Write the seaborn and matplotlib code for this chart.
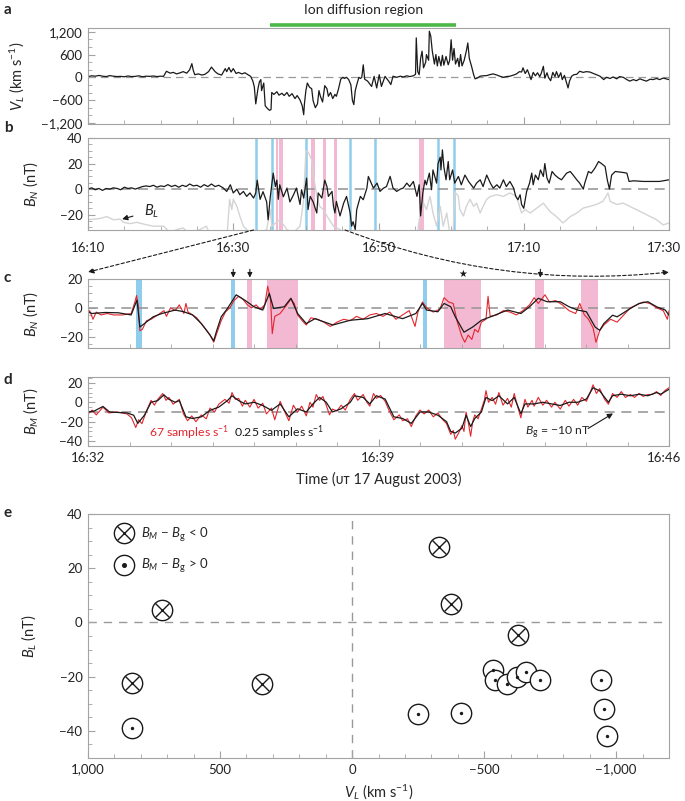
import matplotlib
matplotlib.use("Agg")
import matplotlib.pyplot as plt
import matplotlib.transforms as mtransforms
import seaborn as sns
from matplotlib.lines import Line2D
from matplotlib.legend_handler import HandlerTuple
from matplotlib.patches import ConnectionPatch
from matplotlib.ticker import MultipleLocator

# ---------------- data ----------------
# panel a : V_L, time in minutes after 16:10
a_t = [0, 0.5, 1, 1.5, 2, 2.5, 3, 3.5, 4, 4.5, 5, 5.5, 6, 6.5, 7, 7.5, 8, 8.5, 9, 9.5, 10, 10.4,
       10.8, 11.3, 11.75, 12.2, 12.7, 13.1, 13.6, 14.0, 14.3, 14.5, 14.7, 15.2, 15.7, 16.1, 16.6, 17.0,
       17.5, 17.9, 18.4, 18.9, 19.1, 19.4, 19.7, 20.0, 20.4, 20.7, 21.2, 21.6, 22.1, 22.4, 22.7, 22.9,
       23.1, 23.4, 23.6, 23.8, 23.9, 24.2, 24.4, 24.7, 25.0, 25.2, 25.3, 25.6, 26.0, 26.3, 26.7, 27.0,
       27.4, 27.7, 28.1, 28.5, 28.8, 29.2, 29.5, 29.7, 29.8, 30.0, 30.2, 30.5, 30.8, 31.0, 31.3, 31.6,
       31.8, 32.0, 32.3, 32.6, 32.9, 33.1, 33.4, 33.7, 34.0, 34.2, 34.5, 34.8, 35.1, 35.3, 35.6, 35.9,
       36.2, 36.4, 36.6, 36.8, 37.0, 37.3, 37.5, 37.7, 37.9, 38.1, 38.5, 39.05, 39.4, 39.75, 40.1, 40.4,
       40.9, 41.4, 41.7, 42.0, 42.5, 43.0, 43.4, 43.9, 44.3, 44.8, 45.1, 45.2, 45.4, 45.6, 45.8, 46.0,
       46.2, 46.5, 46.6, 46.9, 47.0, 47.2, 47.4, 47.7, 47.9, 48.1, 48.3, 48.6, 48.8, 49.0, 49.3, 49.6,
       49.8, 50.0, 50.2, 50.4, 50.6, 50.9, 51.1, 51.3, 51.5, 51.8, 52.1, 52.3, 52.5, 52.8, 53.1, 53.3,
       53.6, 54.0, 54.4, 54.9, 55.3, 55.8, 56.3, 56.7, 57.2, 57.6, 58.1, 58.6, 59.0, 59.4, 59.7, 59.9,
       60.2, 60.5, 60.8, 61.0, 61.3, 61.6, 61.9, 62.2, 62.4, 62.7, 62.9, 63.2, 63.4, 63.7, 64.0, 64.3,
       64.5, 64.8, 65.1, 65.3, 65.6, 65.9, 66.1, 66.3, 66.6, 66.9, 67.3, 67.7, 68.2, 68.6, 69.1, 69.6,
       70.0, 70.5, 71.0, 71.4, 71.9, 72.3, 72.8, 73.2, 73.7, 74.2, 74.6, 75.1, 75.5, 76.0, 76.4, 76.9,
       77.4, 77.8, 78.3, 78.7, 79.2, 80.0]
a_v = [20, 40, 30, 50, 30, 20, 45, 30, 20, 25, 15, 35, 20, 25, 40, 15, 30, 25, 35, 20, 30, 25,
       160, 110, 130, 90, 120, 150, 110, 200, 360, 180, 70, 90, 60, 80, 150, 270,
       150, 90, 60, 230, 150, 260, 140, 230, 100, 130, 90, 120, 60, 25, -100, -250,
       -700, -300, -120, -60, -350, -150, -750, -820, -870, -850, -400, -450, -380, -470, -420, -480,
       -400, -500, -430, -560, -480, -600, -750, -985, -700, -350, -150, -260, -300, -620, -800, -700,
       -350, -500, -650, -220, -300, -500, -400, -560, -450, -500, -300, -50, 0, -30, 0, -60,
       -200, -600, -720, -350, -200, 0, -30, 0, 330, -50, -100, -240, 25, -280, 70, -240,
       25, -100, -190, 30, 0, 30, 10, 40, 20, 40, 80, 1040, 150, 70, 500, 690,
       250, 400, 600, 450, 1215, 1080, 700, 350, 600, 300, 550, 300, 580, 320, 550, 330,
       450, 990, 450, 760, 350, 500, 280, 600, 300, 450, 700, 905, 500, 300, 70, -40,
       -20, 30, 40, 45, 70, 90, 60, 30, 0, 20, 30, 60, 90, 150, 140, 250,
       100, 200, 50, -60, 130, 40, 120, 20, 100, 290, -20, 120, 0, -90, 130, 20,
       150, 0, 120, -60, 50, -150, -280, -100, 30, 70, 80, 160, 130, 150, 140, 100,
       70, 30, -60, 0, -30, 10, -40, 20, 0, -60, -100, -60, -90, -40, -70, -100,
       -50, -60, -30, -60, -20, -60]
ion_region = [25.1, 50.7]

# panel b : B_N (black) and B_L (grey), minutes after 16:10
bn_t = [0, 0.5, 1, 1.5, 2, 2.5, 3, 3.5, 4, 4.5, 5, 5.5, 6, 6.5, 7, 7.5, 8, 8.5, 9, 9.5, 10, 10.5,
        11, 11.5, 12, 12.5, 13, 13.5, 14, 14.5, 15, 15.5, 16, 16.5, 17, 17.5, 18, 18.6, 19.1, 19.6,
        20.0, 20.5, 20.9, 21.4, 21.85, 22.3, 22.8, 23.1, 23.3, 23.7, 24.1, 24.6, 24.8, 25.1, 25.5, 25.8,
        26.0, 26.2, 26.4, 26.9, 27.4, 27.8, 28.3, 28.7, 29.2, 29.4, 29.7, 30.1, 30.3, 30.6, 31.0, 31.5,
        31.7, 32.2, 32.6, 32.9, 33.1, 33.6, 33.8, 34.0, 34.2, 34.7, 35.2, 35.6, 36.1, 36.3, 36.5, 36.8,
        37.0, 37.5, 37.9, 38.4, 38.6, 38.8, 39.3, 39.8, 40.2, 40.7, 41.1, 41.6, 42.0, 42.5, 43.0, 43.4,
        43.9, 44.3, 44.8, 45.3, 45.6, 45.8, 46.1, 46.4, 46.6, 47.0, 47.3, 47.5, 48.0, 48.2, 48.5, 48.6,
        48.8, 49.0, 49.3, 49.6, 49.8, 50.2, 50.5, 51.0, 51.4, 51.9, 52.4, 53.1, 53.5, 54.0, 54.4, 54.9,
        55.4, 55.8, 56.3, 56.7, 57.2, 57.6, 58.1, 58.6, 58.9, 59.2, 59.5, 59.7, 60.0, 60.4, 60.8, 61.1,
        61.3, 61.6, 62.0, 62.3, 62.7, 62.9, 63.2, 63.5, 63.9, 64.3, 64.8, 65.2, 65.9, 66.4, 66.8, 67.3,
        67.7, 68.2, 68.4, 68.9, 69.3, 69.8, 70.3, 70.7, 71.2, 71.5, 71.8, 72.1, 72.6, 73.7, 74.2, 74.5,
        75.1, 76.5, 77.8, 78.7, 80.0]
bn_v = [0, 1, -0.5, 0.5, -1, 0.5, 0, 1, 0.5, -0.5, 1.5, 0.5, 1, 0, 1, 2, 2.5, 2, 3, 1.5, 2.5, 2,
        3.5, 2, 3, 1.5, 3, 2, 4, 2.5, 3, 1.5, 3.5, 2, 4, 2, 3, 1, -1.8, 3.4,
        -3, 0, -4.4, -1.8, -5.7, -3, -7, -3, 7, -8, -2, -10, -24, -6, 12.5, 2,
        7, -8, 3.4, -6, 0.8, -10, -4.4, 0.8, -12, -0.5, -7, 8.6, -16, -5.7, -10, -18.7,
        -3, -7, 7, 2, -5.7, -1.8, -13.5, -18.7, -9.6, -21, -11, -5.7, -18.7, -29, -25.5, -31.7,
        -16, -5.7, -8.3, 0.8, 9.9, 7.3, 0.8, 4.7, -1.8, 0.8, 2, 10, 0.8, -1.8, 0, 0.8,
        4.7, 2, 6, -5.7, 3.4, -21, -3, 7, 3.4, 12.5, -0.5, 15, 4.7, 20, 25, 15,
        30.7, 17.5, 7.3, 21.6, 7.3, 15, 4.7, 9.9, 3.4, 11, 6, 0.8, 4.7, 7.3, 2, 11,
        4.7, 0.8, 3.4, 0.8, 7.3, 2, 6, 0.8, -5.7, -8.3, -4.4, -12, -15, -1.8, 4.7, 12.5,
        3.4, 11, 7.3, 15, 9.9, 20, 8.6, 4.7, 13.8, 11, 8.6, 7.3, 12.5, 13.8, 11, 7.3,
        4.7, 0, 4.7, 13.8, 12.5, 16.4, 21.6, 20, 17.7, 7.3, 0, 11, 13.8, 13, 12.5, 6,
        6.5, 6, 6, 6, 7.3]
bl_t = [0, 1.65, 2.6, 3.5, 4.4, 4.9, 5.8, 6.7, 8.1, 9.0, 10.4, 11.3, 12.2, 13.1, 13.6, 14.5, 15.4,
        16.3, 16.6, 17.3, 19.1, 19.5, 19.8, 20.0, 20.5, 20.9, 21.4, 21.85, 22.8, 23.7, 24.6, 25.1,
        25.3, 26.4, 27.4, 28.3, 29.2, 29.7, 30.0, 30.3, 30.8, 31.0, 31.5, 31.9, 32.4, 32.9, 33.8,
        34.7, 35.6, 37.5, 39.3, 40.2, 41.6, 43.4, 44.8, 45.3, 45.8, 46.2, 46.6, 47.1, 47.5, 48.0,
        48.5, 48.9, 49.4, 49.8, 50.3, 50.5, 51.0, 51.2, 51.7, 52.1, 52.6, 53.1, 53.5, 54.0, 54.4,
        54.9, 55.4, 56.3, 57.2, 58.1, 59.0, 59.7, 60.2, 60.9, 61.8, 62.7, 63.6, 64.5, 65.4, 66.4,
        67.3, 68.2, 69.1, 70.0, 70.9, 71.6, 71.9, 72.8, 73.7, 74.6, 75.5, 76.9, 78.3, 79.2, 80.0]
bl_v = [-24, -23, -21.5, -24, -23.5, -26, -27, -26, -28, -29, -29, -34, -31.7, -30.4, -33, -34, -31.7,
        -29, -33, -40, -40, -8, -16, -8, -13.5, -21, -29, -31.7, -37, -34, -31.7, -16,
        -29, -24, -31.7, -34, -29, -8, 30, 29, 23, 12.5, -5.7, -13.5, -16, -21, -29,
        -31.7, -37, -40, -37, -32, -38, -40, -37, -37, -16, -11, -16, -5.7, -18.7, -29,
        -13.5, -29, -18.7, -34, -31.7, -2, -5.7, -16, -21, -13.5, -8, -13.5, -11, -18.7, -13.5,
        -8, -5.7, -4.4, -5.7, -3, -5.7, -18.7, -16, -18.7, -14.8, -11, -17.5, -21.5, -26.5, -21.5,
        -18.7, -14.8, -13.5, -12, -9.6, -3, -9.6, -12, -11, -13.5, -16, -20, -24, -28, -26.5]
b_blue = [23.1, 25.3, 30.0, 36.1, 39.5, 48.2, 50.4]
b_pink = [(25.9, 26.1), (26.3, 26.9), (30.7, 31.3), (32.4, 32.8), (33.9, 34.3), (45.6, 46.3)]

# panel c : B_N zoom, minutes after 16:32 (black = 0.25 samples/s, red = 67 samples/s)
c_t = [0.0, 0.09, 0.41, 0.73, 1.04, 1.18, 1.25, 1.36, 1.57, 1.78, 2.10, 2.31, 2.52, 2.73, 2.94, 3.03,
       3.10, 3.21, 3.36, 3.57, 3.79, 4.0, 4.21, 4.37, 4.47, 4.73, 4.89, 5.05, 5.26, 5.47, 5.90, 6.32,
       6.74, 7.16, 7.58, 7.90, 8.06, 8.16, 8.43, 8.58, 8.74, 8.85, 9.06, 9.27, 9.48, 9.80, 10.11, 10.43,
       10.64, 10.85, 11.06, 11.38, 11.59, 11.80, 12.01, 12.22, 12.33, 12.43, 12.64, 12.75, 13.07, 13.28,
       13.49, 13.70, 13.91, 14.0]
c_v = [-2.8, -4, -3.3, -3.5, -5, 5.4, -13.4, -11, -6.3, -4, -1.6, -2.8, -5, -11, -19, -23,
       -16, -6.3, -0.5, 9, 5, 0.7, -1.6, 10, -0.5, 0.7, 6.6, -4, -11, -7.6, -12, -8.7,
       -7.6, -4, -7.6, -4, 3, -1.6, -2.8, 3, 0.7, -6.3, -17, -13.4, -8.7, -5.2, -1.6, -4,
       0.7, 6.6, 4.2, 4.2, 0.7, -1.6, -2.8, -13.4, -15.7, -11, -5.2, -6.3, -0.5, 3,
       4.2, 0.7, -1.6, -5.2]
c_red_t = [0.0, 0.04, 0.12, 0.2, 0.31, 0.46, 0.62, 0.83, 1.04, 1.13, 1.17, 1.21, 1.25, 1.31, 1.41, 1.52,
           1.68, 1.83, 1.89, 1.99, 2.10, 2.20, 2.31, 2.36, 2.41, 2.52, 2.62, 2.73, 2.84, 2.94, 3.03, 3.10,
           3.21, 3.31, 3.42, 3.52, 3.63, 3.73, 3.84, 3.94, 4.05, 4.15, 4.26, 4.33, 4.40, 4.44, 4.50, 4.63,
           4.79, 4.89, 4.97, 5.05, 5.16, 5.26, 5.37, 5.53, 5.68, 5.84, 6.0, 6.16, 6.32, 6.47, 6.63, 6.79,
           6.95, 7.11, 7.27, 7.42, 7.58, 7.74, 7.88, 7.95, 8.06, 8.16, 8.32, 8.48, 8.58, 8.69, 8.80, 8.90,
           9.01, 9.08, 9.16, 9.25, 9.32, 9.40, 9.48, 9.59, 9.64, 9.69, 9.85, 10.01, 10.17, 10.32, 10.48,
           10.64, 10.75, 10.85, 11.01, 11.12, 11.27, 11.43, 11.59, 11.75, 11.85, 11.96, 12.06, 12.17,
           12.24, 12.33, 12.43, 12.59, 12.75, 12.91, 13.07, 13.22, 13.38, 13.54, 13.70, 13.86, 13.96, 14.0]
c_red_v = [-5, -2, -8, -3, -5, -4, -5, -5, -4, 4, 8.5, 2, -16, -15, -9, -8,
           -5, -2, -6, 0, -2, 2, -4, 3, -3, -5, -7, -11, -15, -19, -24, -18,
           -9, -3, 0, 5, 8, 6, 2, 0, 2, -1, 2, 15, 5, -18, -6, -4,
           2, 6, 3, -5, -9, -12, -7, -8, -10, -13, -10, -8, -9, -6, -8, -5,
           -4, -6, -3, -8, -5, -2, -13, -3, 4, 0, -3, -1, 7, 4, 3, -10,
           -20, -24, -19, -22, -15, -17, -10, -8, 8, -6, -5, -2, -3, -5, -2,
           2, 7, 3, 9, 4, 5, 2, -2, -4, 3, -5, -8, -14,
           -24, -16, -12, -8, -10, -5, 0, 2, 4, 3, 0, -2, -8, -2]
c_blue = [(1.15, 1.3), (3.45, 3.55), (8.08, 8.18)]
c_pink = [(3.84, 3.96), (4.31, 5.05), (8.58, 9.46), (10.77, 10.99), (11.88, 12.3)]
c_arrows = [3.5, 3.9, 10.9]
c_star = 9.03

# panel d : B_M, minutes after 16:32
d_t = [0, 0.15, 0.36, 0.52, 0.94, 1.10, 1.20, 1.36, 1.52, 1.68, 1.83, 1.94, 2.10, 2.20, 2.36, 2.52,
       2.73, 2.94, 3.15, 3.36, 3.47, 3.63, 3.79, 4.0, 4.21, 4.42, 4.63, 4.84, 5.05, 5.26, 5.42, 5.58,
       5.74, 5.89, 6.10, 6.32, 6.42, 6.63, 6.79, 6.95, 7.16, 7.37, 7.58, 7.79, 8.0, 8.21, 8.43, 8.64,
       8.74, 8.85, 9.01, 9.11, 9.22, 9.32, 9.48, 9.59, 9.74, 9.90, 10.11, 10.27, 10.43, 10.53, 10.75,
       10.96, 11.17, 11.38, 11.59, 11.80, 12.01, 12.17, 12.33, 12.54, 12.64, 12.85, 13.07, 13.28,
       13.49, 13.70, 13.80, 14.0]
d_v = [-10, -9, -4.3, -10, -11, -13.3, -21.7, -13.3, 0, 1.7, 7.7, 3.3, 0, 1.7, -15, -16.7,
       -15, -8.3, -5, 1.7, 6.7, 1.7, -1.7, 0, -3.3, -8.3, -1.7, -15, -6.7, -10, -1.7, 5,
       0, -10, -6.7, 0, 6.7, 5, -1.7, 6.7, 3.3, -15, -16.7, -21.7, -10, -10, -13.3, -20,
       -30, -31.7, -26.7, -13.3, -25, -16.7, -10, 5, 1.7, 6.7, -1.7, 5, -11.7, -1.7, -1.7,
       0, -1.7, -3.3, 0, 0, 3.3, 15, 11.7, 0, 6.7, 8.3, 6.7, 8.3,
       6.7, 10, 8.3, 13.3]
d_red_t = [0, 0.1, 0.2, 0.36, 0.5, 0.7, 0.94, 1.05, 1.15, 1.22, 1.3, 1.4, 1.52, 1.6, 1.68, 1.8,
           1.88, 1.95, 2.05, 2.2, 2.3, 2.4, 2.5, 2.6, 2.73, 2.85, 2.94, 3.05, 3.15, 3.3, 3.4, 3.47,
           3.55, 3.63, 3.72, 3.79, 3.9, 4.0, 4.1, 4.21, 4.3, 4.42, 4.5, 4.63, 4.72, 4.84, 4.95, 5.05,
           5.15, 5.26, 5.35, 5.42, 5.5, 5.58, 5.66, 5.74, 5.82, 5.89, 6.0, 6.1, 6.2, 6.32, 6.42, 6.5,
           6.63, 6.72, 6.79, 6.88, 6.95, 7.05, 7.16, 7.25, 7.37, 7.5, 7.58, 7.7, 7.79, 7.9, 8.0, 8.1,
           8.21, 8.32, 8.43, 8.55, 8.64, 8.74, 8.8, 8.85, 8.95, 9.01, 9.06, 9.11, 9.16, 9.22, 9.27,
           9.32, 9.4, 9.48, 9.55, 9.59, 9.65, 9.74, 9.82, 9.9, 10.0, 10.11, 10.2, 10.27, 10.35, 10.43,
           10.48, 10.53, 10.6, 10.7, 10.75, 10.85, 10.96, 11.05, 11.17, 11.25, 11.38, 11.5, 11.59,
           11.7, 11.8, 11.9, 12.01, 12.1, 12.17, 12.25, 12.33, 12.45, 12.54, 12.64, 12.75, 12.85,
           12.95, 13.07, 13.17, 13.28, 13.38, 13.49, 13.6, 13.70, 13.80, 13.9, 14.0]
d_red_v = [-12, -8, -13, -5, -11, -10, -12, -16, -26, -18, -22, -10, 2, -3, 3, 9,
           2, 5, -2, 3, -12, -19, -14, -20, -13, -17, -6, -10, -2, 3, -1, 10,
           3, 4, -4, 2, -5, 3, -6, -1, -12, -6, -18, 1, -8, -19, -3, -10,
           -4, -14, 0, -5, 8, 2, 6, -3, -13, -7, -9, -3, -8, 3, 9, 2,
           8, 0, -4, 9, 4, 7, 1, -8, -18, -13, -19, -17, -25, -14, -8, -12,
           -8, -15, -11, -18, -22, -33, -29, -38, -30, -24, -30, -10, -20, -35, -20,
           -13, -17, -7, 2, 12, 0, 5, -2, 10, -3, 4, -5, 9, -4, -16,
           -6, 3, -5, 2, -4, 5, -3, 2, -5, 0, -7, 2, -4,
           3, -3, 5, 1, 10, 18, 9, 14, 3, -2, 9, 5, 11,
           5, 8, 5, 9, 6, 8, 8, 11, 7, 12, 15]
b_guide = -10

# panel e : scatter of B_L against V_L
cross_vl = [835, 719, 340, -328, -375, -627]
cross_bl = [-22.5, 4.5, -22.8, 27.7, 6.9, -4.5]
dot_vl = [832, -248, -414, -535, -540, -587, -624, -658, -713, -944, -955, -964]
dot_bl = [-38.8, -33.9, -33.4, -17.5, -21.4, -22.8, -20.1, -18.2, -21.2, -21.2, -31.9, -41.8]

# tick labels
ab_ticks = [0, 20, 40, 60, 80]
ab_labels = ['16:10', '16:30', '16:50', '17:10', '17:30']
cd_ticks = [0, 7, 14]
cd_labels = ['16:32', '16:39', '16:46']
va_ticks = [-1200, -600, 0, 600, 1200]
va_labels = ['\u22121,200', '\u2212600', '0', '600', '1,200']
e_xticks = [1000, 500, 0, -500, -1000]
e_xlabels = ['1,000', '500', '0', '\u2212500', '\u22121,000']

# ---------------- style ----------------
sns.set_theme(style="ticks")
plt.rcParams['font.family'] = ['Lato', 'DejaVu Sans']
plt.rcParams['axes.unicode_minus'] = True
plt.rcParams['mathtext.fontset'] = 'custom'
plt.rcParams['mathtext.rm'] = 'Lato'
plt.rcParams['mathtext.it'] = 'Lato:italic'

frame = '#a3a3a3'
dash = '#999999'
black = '#1a1a1a'
red = '#e3262e'
blue = '#8fcdec'
pink = '#f4b9d2'
green = '#4db748'
MINUS = '\u2212'

W, H = 685, 801
fig = plt.figure(figsize=(6.85, 8.01), dpi=100)


def box(top, bottom, left=88, right=669):
    return [left / W, 1 - bottom / H, (right - left) / W, (bottom - top) / H]


def style(ax):
    for s in ax.spines.values():
        s.set_color(frame)
        s.set_linewidth(0.8)
    ax.tick_params(which='both', direction='in', color=frame, labelsize=9.5,
                   labelcolor='#222222', top=False, right=False, left=True, bottom=True)
    ax.tick_params(which='major', length=5, width=0.8, pad=4)
    ax.tick_params(which='minor', length=3, width=0.6)


def nudge_last_xlabel(ax, dx_px):
    lab = ax.get_xticklabels()[-1]
    lab.set_transform(lab.get_transform() +
                      mtransforms.ScaledTranslation(dx_px / 100, 0, fig.dpi_scale_trans))


ax_a = fig.add_axes(box(28, 124))
ax_b = fig.add_axes(box(138, 230))
ax_c = fig.add_axes(box(279, 348))
ax_d = fig.add_axes(box(377, 446))
ax_e = fig.add_axes(box(514, 758))
for ax in (ax_a, ax_b, ax_c, ax_d, ax_e):
    style(ax)

# ---- a ----
sns.lineplot(x=a_t, y=a_v, ax=ax_a, color=black, lw=0.9, estimator=None, sort=False)
ax_a.axhline(0, color=dash, lw=0.9, dashes=(6, 4), zorder=0)
ax_a.set_xlim(0, 80)
ax_a.set_ylim(-1230, 1300)
ax_a.set_yticks(va_ticks)
ax_a.set_yticklabels(va_labels)
ax_a.yaxis.set_minor_locator(MultipleLocator(200))
ax_a.set_xticks(ab_ticks)
ax_a.set_xticklabels([])
ax_a.xaxis.set_minor_locator(MultipleLocator(5))
ax_a.set_ylabel(r'$V_L$ (km s$^{-1}$)', fontsize=10.5)
ax_a.yaxis.set_label_coords(-0.105, 0.5)
ax_a.plot(ion_region, [1.03, 1.03], color=green, lw=2.6, solid_capstyle='butt',
          transform=ax_a.get_xaxis_transform(), clip_on=False)
ax_a.text(sum(ion_region) / 2, 1.19, 'Ion diffusion region', transform=ax_a.get_xaxis_transform(),
          ha='center', va='center', fontsize=10, color='#222222')

# ---- b ----
for t in b_blue:
    ax_b.axvline(t, color=blue, lw=1.8, zorder=0)
for t0, t1 in b_pink:
    ax_b.axvspan(t0, t1, color=pink, lw=0, zorder=0)
sns.lineplot(x=bl_t, y=bl_v, ax=ax_b, color='#d4d4d4', lw=1.0, estimator=None, sort=False)
ax_b.axhline(0, color=dash, lw=1.2, dashes=(6, 4), zorder=1.5)
sns.lineplot(x=bn_t, y=bn_v, ax=ax_b, color=black, lw=0.9, estimator=None, sort=False)
ax_b.set_xlim(0, 80)
ax_b.set_ylim(-32, 40)
ax_b.set_yticks([-20, 0, 20, 40])
ax_b.set_yticklabels([MINUS + '20', '0', '20', '40'])
ax_b.yaxis.set_minor_locator(MultipleLocator(5))
ax_b.set_xticks(ab_ticks)
ax_b.set_xticklabels(ab_labels)
ax_b.xaxis.set_minor_locator(MultipleLocator(5))
ax_b.tick_params(axis='x', which='major', pad=9)
nudge_last_xlabel(ax_b, -5)
ax_b.set_ylabel(r'$B_N$ (nT)', fontsize=10.5)
ax_b.yaxis.set_label_coords(-0.083, 0.5)
ax_b.annotate(r'$B_L$', xy=(4.7, -23.5), xytext=(8.8, -17), fontsize=10.5,
              ha='center', va='center',
              arrowprops=dict(arrowstyle='-|>', color=black, lw=0.8, mutation_scale=8,
                              shrinkA=6, shrinkB=0))

# ---- c ----
for t0, t1 in c_blue:
    ax_c.axvspan(t0, t1, color=blue, lw=0, zorder=0)
for t0, t1 in c_pink:
    ax_c.axvspan(t0, t1, color=pink, lw=0, zorder=0)
ax_c.axhline(0, color=dash, lw=1.2, dashes=(6, 4), zorder=1)
sns.lineplot(x=c_red_t, y=c_red_v, ax=ax_c, color=red, lw=0.8, estimator=None, sort=False)
sns.lineplot(x=c_t, y=c_v, ax=ax_c, color=black, lw=0.9, estimator=None, sort=False)
ax_c.set_xlim(0, 14)
ax_c.set_ylim(-28, 20)
ax_c.set_yticks([-20, 0, 20])
ax_c.set_yticklabels([MINUS + '20', '0', '20'])
ax_c.yaxis.set_minor_locator(MultipleLocator(5))
ax_c.set_xticks(cd_ticks)
ax_c.set_xticklabels([])
ax_c.xaxis.set_minor_locator(MultipleLocator(1))
ax_c.set_ylabel(r'$B_N$ (nT)', fontsize=10.5)
ax_c.yaxis.set_label_coords(-0.083, 0.5)
for t in c_arrows:
    ax_c.annotate('', xy=(t, 1.02), xytext=(t, 1.14), xycoords=ax_c.get_xaxis_transform(),
                  arrowprops=dict(arrowstyle='-|>', color=black, lw=0.8, mutation_scale=7,
                                  shrinkA=0, shrinkB=0))
ax_c.text(c_star, 1.08, '\u2605', transform=ax_c.get_xaxis_transform(), ha='center',
          va='center', fontsize=7, family='DejaVu Sans', color=black)

# zoom guides from b to c
for xa, xc, rad in ((22.8, 0.0, 0.0), (35.4, 1.0, 0.12)):
    con = ConnectionPatch(xyA=(xa, -32), coordsA=ax_b.transData,
                          xyB=(xc, 1.10), coordsB=ax_c.transAxes,
                          arrowstyle='-|>', mutation_scale=8, lw=0.8, ls=(0, (3, 2)),
                          color=black, connectionstyle='arc3,rad=%s' % rad)
    fig.add_artist(con)

# ---- d ----
ax_d.axhline(b_guide, color=dash, lw=1.2, dashes=(6, 4), zorder=1)
sns.lineplot(x=d_red_t, y=d_red_v, ax=ax_d, color=red, lw=0.8, estimator=None, sort=False)
sns.lineplot(x=d_t, y=d_v, ax=ax_d, color=black, lw=0.9, estimator=None, sort=False)
ax_d.set_xlim(0, 14)
ax_d.set_ylim(-45, 26)
ax_d.set_yticks([-40, -20, 0, 20])
ax_d.set_yticklabels([MINUS + '40', MINUS + '20', '0', '20'])
ax_d.yaxis.set_minor_locator(MultipleLocator(5))
ax_d.set_xticks(cd_ticks)
ax_d.set_xticklabels(cd_labels)
ax_d.xaxis.set_minor_locator(MultipleLocator(1))
nudge_last_xlabel(ax_d, -5)
ax_d.set_ylabel(r'$B_M$ (nT)', fontsize=10.5)
ax_d.yaxis.set_label_coords(-0.083, 0.5)
ax_d.set_xlabel('Time (\u1d1c\u1d1b 17 August 2003)', fontsize=10.5, labelpad=6)
ax_d.text(0.105, 0.19, r'67 samples s$^{-1}$', transform=ax_d.transAxes, color=red,
          fontsize=8.8, va='center')
ax_d.text(0.252, 0.19, r'0.25 samples s$^{-1}$', transform=ax_d.transAxes, color=black,
          fontsize=8.8, va='center')
ax_d.text(0.752, 0.19, r'$B_{\rm g}$ = ' + MINUS + '10 nT', transform=ax_d.transAxes,
          fontsize=8.8, va='center', ha='left')
ax_d.annotate('', xy=(12.65, -11.5), xytext=(12.05, -27), arrowprops=dict(
    arrowstyle='-|>', color=black, lw=0.8, mutation_scale=8, shrinkA=0, shrinkB=0))

# ---- e ----
ax_e.axhline(0, color=dash, lw=1.0, dashes=(6, 5), zorder=0)
ax_e.axvline(0, color=dash, lw=1.0, dashes=(6, 5), zorder=0)
sns.scatterplot(x=cross_vl + dot_vl, y=cross_bl + dot_bl, ax=ax_e, marker='o', s=215,
                facecolor='white', edgecolor=black, linewidth=1.0, zorder=3)
sns.scatterplot(x=cross_vl, y=cross_bl, ax=ax_e, marker='x', s=105, color=black,
                linewidth=1.0, zorder=4)
sns.scatterplot(x=dot_vl, y=dot_bl, ax=ax_e, marker='o', s=6, color=black,
                linewidth=0, zorder=4)
ax_e.set_xlim(1000, -1200)
ax_e.set_ylim(-50, 40)
ax_e.set_xticks(e_xticks)
ax_e.set_xticklabels(e_xlabels)
ax_e.xaxis.set_minor_locator(MultipleLocator(100))
ax_e.set_yticks([-40, -20, 0, 20, 40])
ax_e.set_yticklabels([MINUS + '40', MINUS + '20', '0', '20', '40'])
ax_e.yaxis.set_minor_locator(MultipleLocator(5))
ax_e.set_xlabel(r'$V_L$ (km s$^{-1}$)', fontsize=10.5, labelpad=5)
ax_e.set_ylabel(r'$B_L$ (nT)', fontsize=10.5)
ax_e.yaxis.set_label_coords(-0.086, 0.5)

ring = Line2D([], [], ls='', marker='o', ms=14.6, mfc='none', mec=black, mew=1.0)
cross = Line2D([], [], ls='', marker='x', ms=10.2, mec=black, mew=1.0)
dot = Line2D([], [], ls='', marker='o', ms=2.6, mfc=black, mec=black)
ax_e.legend([(ring, cross), (ring, dot)],
            [r'$B_M$ ' + MINUS + r' $B_{\rm g}$ < 0', r'$B_M$ ' + MINUS + r' $B_{\rm g}$ > 0'],
            handler_map={tuple: HandlerTuple(ndivide=1, pad=0)}, loc='upper left',
            bbox_to_anchor=(0.035, 0.975), frameon=False, fontsize=9.5, handlelength=1.6,
            handletextpad=0.5, labelspacing=0.95, borderaxespad=0)

# panel letters
for letter, y in (('a', 10), ('b', 128), ('c', 278), ('d', 380), ('e', 513)):
    fig.text(4 / W, 1 - y / H, letter, fontsize=11, fontweight='bold', va='center', ha='left')

fig.savefig('out.png', dpi=100)
